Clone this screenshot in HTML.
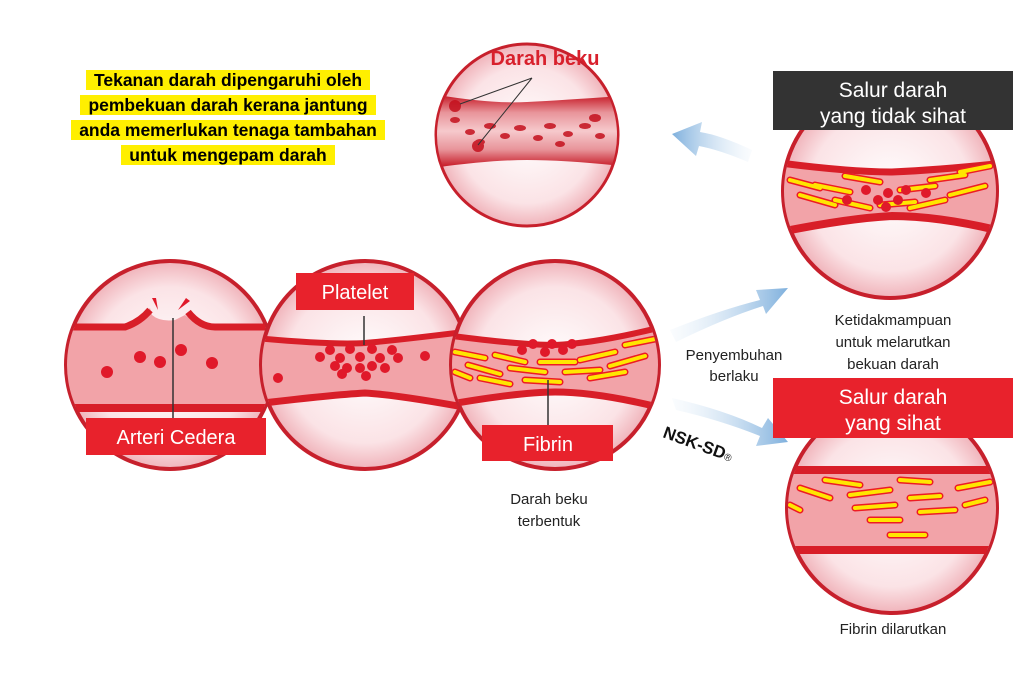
<!DOCTYPE html>
<html><head><meta charset="utf-8"><style>
body{margin:0;width:1024px;height:682px;background:#fff;overflow:hidden;font-family:"Liberation Sans",sans-serif}
svg{position:absolute;left:0;top:0}
.hl{position:absolute;left:0;width:456px;text-align:center;font-weight:bold;font-size:17.5px;line-height:25px}
.hl span{background:#ffef00;padding:0 8px}
</style></head><body>
<svg width="1024" height="682" viewBox="0 0 1024 682">
<defs>
<radialGradient id="bg" cx="50%" cy="50%" r="50%"><stop offset="0" stop-color="#fff"/><stop offset="0.75" stop-color="#fbe3e6"/><stop offset="1" stop-color="#f0b3ba"/></radialGradient>
<linearGradient id="ar1" x1="1" y1="0" x2="0" y2="0"><stop offset="0" stop-color="#e6f0f9" stop-opacity="0.2"/><stop offset="1" stop-color="#7fb0dd"/></linearGradient>
<linearGradient id="ar2" x1="0" y1="0" x2="1" y2="0"><stop offset="0" stop-color="#e6f0f9" stop-opacity="0.2"/><stop offset="1" stop-color="#7fb0dd"/></linearGradient>
<linearGradient id="vt" x1="0" y1="0" x2="0" y2="1"><stop offset="0" stop-color="#c4101d"/><stop offset="0.25" stop-color="#e8949a"/><stop offset="0.5" stop-color="#f6c9cc"/><stop offset="0.75" stop-color="#e8949a"/><stop offset="1" stop-color="#c4101d"/></linearGradient>
<clipPath id="k1"><circle cx="170" cy="365" r="103"/></clipPath>
<clipPath id="k2"><circle cx="365" cy="365" r="103"/></clipPath>
<clipPath id="k3"><circle cx="555" cy="365" r="103"/></clipPath>
<clipPath id="kt"><circle cx="527" cy="135" r="90"/></clipPath>
<clipPath id="kr1"><circle cx="890" cy="191" r="106"/></clipPath>
<clipPath id="kr2"><circle cx="892" cy="508" r="104"/></clipPath>
</defs>
<!-- arrows -->
<path d="M752,150 Q720,135 700,132 L702,122 L672,134 L696,156 L699,146 Q720,150 748,162Z" fill="url(#ar1)"/>
<path d="M670,330 Q720,310 760,300 L756,290 L788,288 L766,314 L763,306 Q725,318 676,342Z" fill="url(#ar2)"/>
<path d="M672,398 Q725,410 762,428 L768,418 L788,442 L756,446 L760,436 Q720,420 676,410Z" fill="url(#ar2)"/>
<!-- circle 1 -->
<circle cx="170" cy="365" r="104" fill="url(#bg)" stroke="#c7202c" stroke-width="4"/>
<g clip-path="url(#k1)">
<path d="M60,327 L125,327 Q140,320 150,308 L152,315 Q160,322 175,320 L185,315 Q200,327 215,327 L290,327 L290,407 L60,407Z" fill="#f2a3a8"/>
<path d="M60,327 L125,327 Q140,322 150,310" stroke="#d81e28" stroke-width="7" fill="none"/>
<path d="M188,312 Q200,327 215,327 L290,327" stroke="#d81e28" stroke-width="7" fill="none"/>
<rect x="60" y="404" width="230" height="8" fill="#d81e28"/>
<circle cx="107" cy="372" r="6" fill="#e0192a"/><circle cx="140" cy="357" r="6" fill="#e0192a"/><circle cx="160" cy="362" r="6" fill="#e0192a"/><circle cx="181" cy="350" r="6" fill="#e0192a"/><circle cx="212" cy="363" r="6" fill="#e0192a"/>
<path d="M152,298 L158,310 L156,298Z M186,298 L178,310 L190,301Z" fill="#e0192a"/>
<line x1="173" y1="318" x2="173" y2="420" stroke="#333" stroke-width="1.5"/>
</g>
<!-- circle 2 -->
<circle cx="365" cy="365" r="104" fill="url(#bg)" stroke="#c7202c" stroke-width="4"/>
<g clip-path="url(#k2)">
<path d="M255,338 Q330,345 365,343 Q400,340 480,330 L480,410 Q400,395 365,393 Q330,395 255,404Z" fill="#f2a3a8"/>
<path d="M255,338 Q330,345 365,343 Q400,340 480,330" stroke="#d81e28" stroke-width="6" fill="none"/>
<path d="M255,404 Q330,395 365,393 Q400,395 480,410" stroke="#d81e28" stroke-width="7" fill="none"/>
<g fill="#e0192a">
<circle cx="320" cy="357" r="5"/><circle cx="330" cy="350" r="5"/><circle cx="340" cy="358" r="5"/><circle cx="350" cy="349" r="5"/><circle cx="360" cy="357" r="5"/><circle cx="372" cy="349" r="5"/><circle cx="380" cy="358" r="5"/><circle cx="392" cy="350" r="5"/><circle cx="398" cy="358" r="5"/><circle cx="335" cy="366" r="5"/><circle cx="347" cy="368" r="5"/><circle cx="360" cy="368" r="5"/><circle cx="372" cy="366" r="5"/><circle cx="385" cy="368" r="5"/><circle cx="342" cy="374" r="5"/><circle cx="366" cy="376" r="5"/><circle cx="278" cy="378" r="5"/><circle cx="425" cy="356" r="5"/>
</g>
<line x1="364" y1="316" x2="364" y2="345" stroke="#333" stroke-width="1.5"/>
</g>
<!-- circle 3 -->
<circle cx="555" cy="365" r="104" fill="url(#bg)" stroke="#c7202c" stroke-width="4"/>
<g clip-path="url(#k3)">
<path d="M445,335 Q520,345 555,345 Q600,343 670,325 L670,410 Q600,392 555,392 Q520,392 445,405Z" fill="#f2a3a8"/>
<path d="M445,335 Q520,345 555,345 Q600,343 670,325" stroke="#d81e28" stroke-width="6" fill="none"/>
<path d="M445,405 Q520,392 555,392 Q600,392 670,410" stroke="#d81e28" stroke-width="7" fill="none"/>
<g stroke="#ed1c24" stroke-width="7" stroke-linecap="round"><path d="M455,352 L485,358 M468,365 L500,374 M480,378 L510,384 M495,355 L525,362 M510,368 L545,372 M525,380 L560,382 M540,362 L575,362 M565,372 L600,370 M580,360 L615,352 M590,378 L625,372 M610,366 L645,356 M625,345 L660,338 M455,372 L470,378"/></g>
<g stroke="#ffe600" stroke-width="4" stroke-linecap="round"><path d="M455,352 L485,358 M468,365 L500,374 M480,378 L510,384 M495,355 L525,362 M510,368 L545,372 M525,380 L560,382 M540,362 L575,362 M565,372 L600,370 M580,360 L615,352 M590,378 L625,372 M610,366 L645,356 M625,345 L660,338 M455,372 L470,378"/></g>
<g fill="#e0192a"><circle cx="522" cy="350" r="5"/><circle cx="533" cy="344" r="5"/><circle cx="545" cy="352" r="5"/><circle cx="552" cy="344" r="5"/><circle cx="563" cy="350" r="5"/><circle cx="572" cy="344" r="5"/></g>
<line x1="548" y1="380" x2="548" y2="430" stroke="#333" stroke-width="1.5"/>
</g>
<!-- top circle -->
<circle cx="527" cy="135" r="91" fill="url(#bg)" stroke="#c7202c" stroke-width="3"/>
<g clip-path="url(#kt)">
<path d="M432,94 Q490,104 527,102 Q565,100 622,96 L622,166 Q565,160 527,160 Q490,160 432,168Z" fill="url(#vt)"/>
<g fill="#c4101d" opacity="0.85">
<ellipse cx="455" cy="120" rx="5" ry="3"/><ellipse cx="470" cy="132" rx="5" ry="3"/><ellipse cx="490" cy="126" rx="6" ry="3"/><ellipse cx="505" cy="136" rx="5" ry="3"/><ellipse cx="520" cy="128" rx="6" ry="3"/><ellipse cx="538" cy="138" rx="5" ry="3"/><ellipse cx="550" cy="126" rx="6" ry="3"/><ellipse cx="568" cy="134" rx="5" ry="3"/><ellipse cx="585" cy="126" rx="6" ry="3"/><ellipse cx="600" cy="136" rx="5" ry="3"/><ellipse cx="480" cy="142" rx="5" ry="3"/><ellipse cx="560" cy="144" rx="5" ry="3"/><circle cx="478" cy="146" r="6"/><circle cx="455" cy="106" r="6"/><ellipse cx="595" cy="118" rx="6" ry="4"/>
</g>
<path d="M532,78 L460,104 M532,78 L478,145" stroke="#333" stroke-width="1" fill="none"/>
</g>
<text x="545" y="65" font-family="Liberation Sans" font-weight="bold" font-size="20" fill="#d8202c" text-anchor="middle">Darah beku</text>
<!-- right top -->
<circle cx="890" cy="191" r="107" fill="url(#bg)" stroke="#c7202c" stroke-width="4"/>
<g clip-path="url(#kr1)">
<path d="M780,163 Q850,172 892,172 Q940,170 1005,163 L1005,232 Q940,216 892,216 Q850,218 780,232Z" fill="#f2a3a8"/>
<path d="M780,163 Q850,172 892,172 Q940,170 1005,163" stroke="#d81e28" stroke-width="7" fill="none"/>
<path d="M780,232 Q850,218 892,216 Q940,216 1005,232" stroke="#d81e28" stroke-width="8" fill="none"/>
<g stroke="#ed1c24" stroke-width="7" stroke-linecap="round"><path d="M790,180 L820,188 M800,195 L835,205 M815,185 L850,192 M835,200 L870,208 M845,176 L880,182 M880,205 L915,202 M900,190 L935,186 M910,208 L945,200 M930,180 L965,175 M950,195 L985,186 M960,172 L990,166"/></g>
<g stroke="#ffe600" stroke-width="4" stroke-linecap="round"><path d="M790,180 L820,188 M800,195 L835,205 M815,185 L850,192 M835,200 L870,208 M845,176 L880,182 M880,205 L915,202 M900,190 L935,186 M910,208 L945,200 M930,180 L965,175 M950,195 L985,186 M960,172 L990,166"/></g>
<g fill="#e0192a"><circle cx="866" cy="190" r="5"/><circle cx="878" cy="200" r="5"/><circle cx="888" cy="193" r="5"/><circle cx="898" cy="200" r="5"/><circle cx="886" cy="207" r="5"/><circle cx="906" cy="190" r="5"/><circle cx="926" cy="193" r="5"/><circle cx="847" cy="200" r="5"/></g>
</g>
<!-- right bottom -->
<circle cx="892" cy="508" r="105" fill="url(#bg)" stroke="#c7202c" stroke-width="4"/>
<g clip-path="url(#kr2)">
<rect x="780" y="470" width="225" height="80" fill="#f2a3a8"/>
<rect x="780" y="466" width="225" height="8" fill="#d81e28"/>
<rect x="780" y="546" width="225" height="8" fill="#d81e28"/>
<g stroke="#ed1c24" stroke-width="7" stroke-linecap="round"><path d="M800,488 L830,498 M825,480 L860,485 M850,495 L890,490 M855,508 L895,505 M870,520 L900,520 M900,480 L930,482 M910,498 L940,496 M920,512 L955,510 M958,488 L990,482 M965,505 L985,500 M890,535 L925,535 M790,505 L800,510"/></g>
<g stroke="#ffe600" stroke-width="4" stroke-linecap="round"><path d="M800,488 L830,498 M825,480 L860,485 M850,495 L890,490 M855,508 L895,505 M870,520 L900,520 M900,480 L930,482 M910,498 L940,496 M920,512 L955,510 M958,488 L990,482 M965,505 L985,500 M890,535 L925,535 M790,505 L800,510"/></g>
</g>
<!-- label boxes -->
<rect x="86" y="418" width="180" height="37" fill="#e8222c"/>
<text x="176" y="444" font-size="20" fill="#fff" text-anchor="middle">Arteri Cedera</text>
<rect x="296" y="273" width="118" height="37" fill="#e8222c"/>
<text x="355" y="299" font-size="20" fill="#fff" text-anchor="middle">Platelet</text>
<rect x="482" y="425" width="131" height="36" fill="#e8222c"/>
<text x="548" y="451" font-size="20" fill="#fff" text-anchor="middle">Fibrin</text>
<rect x="773" y="71" width="240" height="59" fill="#333"/>
<text x="893" y="97" font-size="21" fill="#fff" text-anchor="middle">Salur darah</text>
<text x="893" y="123" font-size="21" fill="#fff" text-anchor="middle">yang tidak sihat</text>
<rect x="773" y="378" width="240" height="60" fill="#e8222c"/>
<text x="893" y="404" font-size="21" fill="#fff" text-anchor="middle">Salur darah</text>
<text x="893" y="430" font-size="21" fill="#fff" text-anchor="middle">yang sihat</text>
<!-- captions -->
<g font-size="15" fill="#222" text-anchor="middle">
<text x="549" y="504">Darah beku</text><text x="549" y="526">terbentuk</text>
<text x="893" y="325">Ketidakmampuan</text><text x="893" y="347">untuk melarutkan</text><text x="893" y="369">bekuan darah</text>
<text x="734" y="360">Penyembuhan</text><text x="734" y="381">berlaku</text>
<text x="893" y="634">Fibrin dilarutkan</text>
</g>
<text x="0" y="0" font-size="17" font-weight="bold" fill="#111" transform="translate(662,437) rotate(20)">NSK-SD<tspan font-size="10" font-weight="normal">®</tspan></text>
</svg>
<div class="hl" style="top:68px"><span>Tekanan darah dipengaruhi oleh</span></div>
<div class="hl" style="top:93px"><span>pembekuan darah kerana jantung</span></div>
<div class="hl" style="top:118px"><span>anda memerlukan tenaga tambahan</span></div>
<div class="hl" style="top:143px"><span>untuk mengepam darah</span></div>
</body></html>
